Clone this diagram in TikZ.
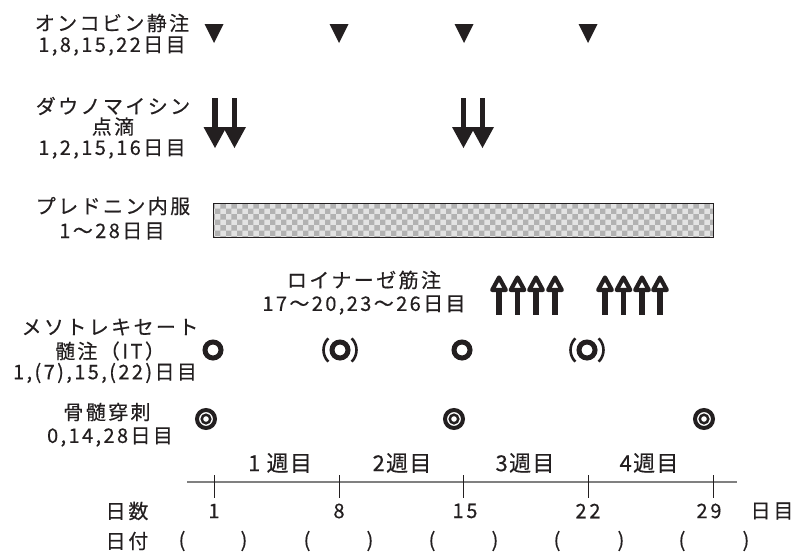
\documentclass[tikz,border=0pt]{standalone}
\usepackage{fontspec}
\setmainfont{Noto Sans CJK JP}[FakeBold=0.4]
\usetikzlibrary{patterns}
\definecolor{ink}{HTML}{231F20}
\tikzset{
  lbl/.style={font=\fontsize{20}{22}\selectfont\addfontfeature{LetterSpace=12}, text=ink, inner sep=0pt, anchor=center},
  wk/.style={font=\fontsize{22}{24}\selectfont\addfontfeature{LetterSpace=6}, text=ink, inner sep=0pt},
  ax/.style={font=\fontsize{20}{22}\selectfont\addfontfeature{LetterSpace=14}, text=ink, inner sep=0pt},
  par/.style={font=\fontsize{20}{22}\selectfont, text=ink, inner sep=0pt},
  tri/.style={fill=ink},
  dshaft/.style={fill=ink},
  upa/.style={draw=ink, line width=4.2pt, line join=round},
  ushaft/.style={draw=ink, line width=5.5pt},
  ring/.style={draw=ink, line width=5pt},
  paren/.style={draw=ink, line width=2.6pt},
  bm/.style={draw=ink, line width=4pt},
  bmin/.style={draw=ink, line width=2.5pt},
}
\begin{document}
\begin{tikzpicture}[x=1pt,y=-1pt]
\useasboundingbox (0,0) rectangle (796,554);
% labels
\node[lbl] (onc) at (112,23) {オンコビン静注};
\node[lbl] (oncd) at (112,46) {1,8,15,22日目};
\node[lbl] (dau) at (113,106) {ダウノマイシン};
\node[lbl] (daub) at (113,126.5) {点滴};
\node[lbl] (daud) at (112,149) {1,2,15,16日目};
\node[lbl] (pre) at (113,206) {プレドニン内服};
\node[lbl] (pred) at (112,231) {1～28日目};
\node[lbl] (loi) at (364,280) {ロイナーゼ筋注};
\node[lbl] (loid) at (364,305) {17～20,23～26日目};
\node[lbl] (mtx) at (110,327) {メソトレキセート};
\node[lbl] (mtxb) at (110,351) {髄注（IT）};
\node[lbl] (mtxd) at (105,373) {1,(7),15,(22)日目};
\node[lbl] (bmp) at (107,412) {骨髄穿刺};
\node[lbl] (bmpd) at (110,437) {0,14,28日目};
% vincristine triangles
\foreach \x/\n in {214/t1,339/t2,464/t3,588/t4}{
  \fill[tri] (\x-9.5,24) -- (\x+9.5,24) -- (\x,43) -- cycle;
}
% daunomycin arrows
\foreach \x in {215,234.5,463.5,482.5}{
  \fill[dshaft] (\x-2.6,98) rectangle (\x+2.6,129);
  \fill[dshaft] (\x-11.5,127) -- (\x+11.5,127) -- (\x,148) -- cycle;
}
% prednisolone bar
\fill[gray!22] (213,203) rectangle (713,237);
\fill[pattern=checkerboard, pattern color=gray!60] (213,203) rectangle (713,237);
\draw[ink, line width=0.8pt] (213,203) rectangle (713,237);
% asparaginase arrows
\foreach \x in {499,517.5,536,555,605,623.5,642,660}{
  \draw[ushaft] (\x,289) -- (\x,315);
  \draw[upa] (\x,277.5) -- (\x-6.8,290) -- (\x+6.8,290) -- cycle;
}
% methotrexate
\foreach \x in {213,340,462,587}{
  \draw[ring] (\x,350) circle (8);
}
\foreach \x in {340,587}{
  \draw[paren] (\x,350) ++(135:16.5) arc (135:225:16.5);
  \draw[paren] (\x,350) ++(-45:16.5) arc (-45:45:16.5);
}
% bone marrow
\foreach \x in {206,454,704}{
  \draw[bm] (\x,419) circle (9);
  \draw[bmin] (\x,419) circle (4.25);
}
% timeline
\draw[gray, line width=1.8pt] (187,482) -- (737,482);
\foreach \x in {214,339,463,588,713}{
  \draw[ink, line width=0.8pt] (\x,475) -- (\x,498);
}
\node[wk] (w1) at (280,463) {1 週目};
\node[wk] (w2) at (402,463) {2週目};
\node[wk] (w3) at (525,463) {3週目};
\node[wk] (w4) at (649,463) {4週目};
% axis labels
\node[ax] (nis) at (127,511) {日数};
\node[ax] (d1) at (214,511) {1};
\node[ax] (d8) at (339,511) {8};
\node[ax] (d15) at (465,511) {15};
\node[ax] (d22) at (588,511) {22};
\node[ax] (d29) at (709,511) {29};
\node[ax] (nm) at (772,511) {日目};
\node[ax] (hz) at (127,541) {日付};
\foreach \a/\b [count=\i] in {182/244,307/370,432/495,557/621,682/746}{
  \node[par] (pl\i) at (\a,541) {(};
  \node[par] (pr\i) at (\b,541) {)};
}
\end{tikzpicture}
\end{document}
